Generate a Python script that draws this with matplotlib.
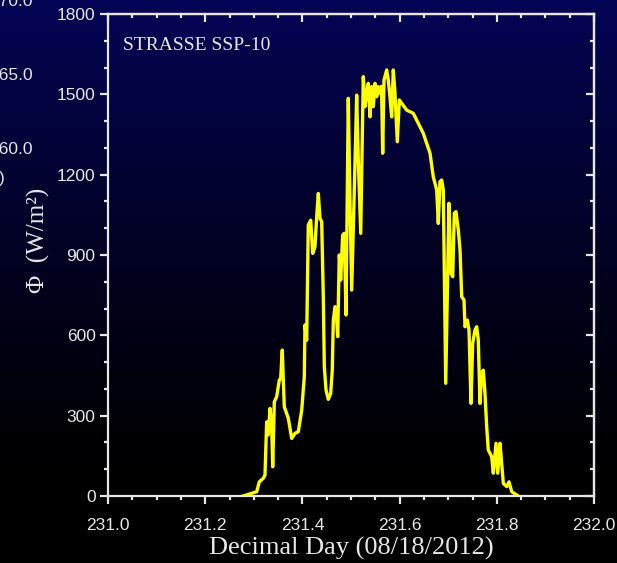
import numpy as np
import matplotlib
matplotlib.use("Agg")
import matplotlib.pyplot as plt
from matplotlib.ticker import MultipleLocator, FormatStrFormatter

# Solar irradiance record, STRASSE cruise, 18 Aug 2012
decimal_day = [
    231.2778, 231.2922, 231.3060, 231.3113, 231.3195, 231.3230, 231.3265, 231.3298,
    231.3333, 231.3368, 231.3389, 231.3422, 231.3471, 231.3525, 231.3553, 231.3586,
    231.3607, 231.3628, 231.3710, 231.3780, 231.3848, 231.3916, 231.3986, 231.4039,
    231.4053, 231.4088, 231.4121, 231.4171, 231.4212, 231.4259, 231.4294, 231.4327,
    231.4362, 231.4397, 231.4430, 231.4451, 231.4486, 231.4533, 231.4582, 231.4615,
    231.4636, 231.4671, 231.4706, 231.4726, 231.4759, 231.4788, 231.4829, 231.4862,
    231.4897, 231.4944, 231.4979, 231.5014, 231.5062, 231.5117, 231.5150, 231.5200,
    231.5253, 231.5288, 231.5323, 231.5356, 231.5391, 231.5426, 231.5459, 231.5494,
    231.5529, 231.5562, 231.5597, 231.5628, 231.5652, 231.5679, 231.5735, 231.5767,
    231.5802, 231.5837, 231.5870, 231.5905, 231.5953, 231.5994, 231.6146, 231.6282,
    231.6488, 231.6626, 231.6693, 231.6763, 231.6796, 231.6831, 231.6866, 231.6899,
    231.6949, 231.7016, 231.7058, 231.7093, 231.7126, 231.7160, 231.7208, 231.7243,
    231.7278, 231.7325, 231.7346, 231.7393, 231.7428, 231.7469, 231.7504, 231.7551,
    231.7586, 231.7619, 231.7654, 231.7689, 231.7722, 231.7757, 231.7792, 231.7825,
    231.7895, 231.7928, 231.7984, 231.8019, 231.8066, 231.8097, 231.8134, 231.8204,
    231.8251, 231.8307, 231.8442,
]
flux = [
    0, 8, 16, 53, 66, 78, 277, 228,
    327, 259, 109, 352, 371, 433, 439, 545,
    433, 333, 290, 215, 234, 240, 321, 445,
    639, 582, 1012, 1030, 906, 931, 1043, 1130,
    1037, 1024, 744, 483, 396, 361, 383, 470,
    657, 707, 657, 595, 900, 807, 975, 981,
    676, 1485, 1100, 769, 1100, 1497, 1255, 981,
    1566, 1454, 1504, 1541, 1416, 1529, 1454, 1541,
    1491, 1529, 1504, 1530, 1280, 1553, 1591, 1553,
    1491, 1416, 1591, 1504, 1323, 1479, 1441, 1429,
    1354, 1280, 1192, 1143, 1018, 1174, 1180, 1143,
    421, 1093, 832, 819, 1056, 1062, 993, 919,
    744, 732, 632, 657, 620, 346, 570, 620,
    632, 582, 346, 458, 470, 383, 259, 172,
    147, 85, 197, 85, 197, 130, 47, 35,
    53, 16, 0,
]

# neighbouring panel's axis labels, cut by the figure edge
side_labels = ["170.0", "165.0", "160.0"]

W, H = 617, 563
fig = plt.figure(figsize=(W / 100, H / 100), dpi=100)

# navy-to-black backdrop
bg = fig.add_axes([0, 0, 1, 1], zorder=0)
bg.set_axis_off()
yy = np.linspace(0, 1, 400)[:, None]
fade = np.clip(1 - yy / 0.85, 0, 1) ** 1.2
top = np.array([4, 4, 86]) / 255.0
img = fade[..., None] * top[None, None, :]
img = np.repeat(img, 2, axis=1)
bg.imshow(img, aspect="auto", extent=[0, 1, 0, 1], origin="upper")
bg.set_xlim(0, 1)
bg.set_ylim(0, 1)

fg = "#e6e6e6"
ax = fig.add_axes([108 / W, 1 - 496 / H, 486 / W, 482 / H], zorder=2)
ax.patch.set_alpha(0)

ax.plot(decimal_day, flux, color="#ffff00", lw=2.4, solid_joinstyle="round")

ax.set_xlim(231.0, 232.0)
ax.set_ylim(0, 1800)
ax.xaxis.set_major_locator(MultipleLocator(0.2))
ax.xaxis.set_minor_locator(MultipleLocator(0.05))
ax.yaxis.set_major_locator(MultipleLocator(300))
ax.yaxis.set_minor_locator(MultipleLocator(100))
ax.xaxis.set_major_formatter(FormatStrFormatter("%.1f"))

for s in ax.spines.values():
    s.set_color(fg)
    s.set_linewidth(1.6)

tick_font = "Liberation Sans"
tick_size = 12.5
ax.tick_params(which="both", direction="out", colors=fg, width=1.6,
               labelsize=tick_size)
ax.tick_params(which="major", length=6)
ax.tick_params(which="minor", length=3)
ax.tick_params(axis="x", pad=9.5)
ax.tick_params(axis="y", pad=3)
for lab in ax.get_xticklabels() + ax.get_yticklabels():
    lab.set_fontfamily(tick_font)
    lab.set_color(fg)

# inward ticks on the top and right frame
sx = ax.secondary_xaxis("top")
sy = ax.secondary_yaxis("right")
for sec, axis in ((sx, sx.xaxis), (sy, sy.yaxis)):
    axis.set_major_locator(MultipleLocator(0.2 if sec is sx else 300))
    axis.set_minor_locator(MultipleLocator(0.05 if sec is sx else 100))
    sec.tick_params(which="both", direction="in", colors=fg, width=1.6,
                    labeltop=False, labelright=False)
    sec.tick_params(which="major", length=6)
    sec.tick_params(which="minor", length=3)
    for s in sec.spines.values():
        s.set_color(fg)
        s.set_linewidth(1.6)

serif = "Liberation Serif"
ax.set_xlabel("Decimal Day (08/18/2012)", family=serif, fontsize=19,
              color=fg, labelpad=3)
ax.set_ylabel("Φ  (W/m²)", family=serif, fontsize=18, color=fg)
ax.yaxis.set_label_coords(-0.119, 0.53)
ax.text(0.031, 0.934, "STRASSE SSP-10", transform=ax.transAxes, family=serif,
        fontsize=14, color=fg, va="center", ha="left")

for i, lab in enumerate(side_labels):
    fig.text(33 / W, 1 - (2 + 73.5 * i) / H, lab, family=tick_font,
             fontsize=tick_size, color=fg, ha="right", va="center")
fig.text(5 / W, 1 - 178 / H, ")", family=tick_font, fontsize=tick_size,
         color=fg, ha="right", va="center")

fig.savefig("out.png", dpi=100)
